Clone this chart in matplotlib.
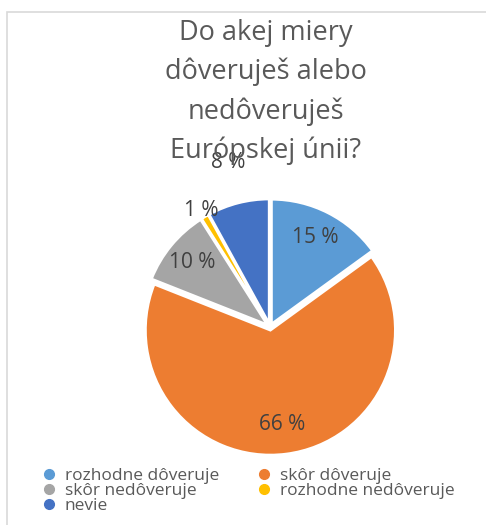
import numpy as np
import matplotlib
matplotlib.use("Agg")
import matplotlib.pyplot as plt
from matplotlib.lines import Line2D
from matplotlib.patches import Rectangle

title = "Do akej miery\ndôveruješ alebo\nnedôveruješ\nEurópskej únii?"
labels = ["rozhodne dôveruje", "skôr dôveruje", "skôr nedôveruje",
          "rozhodne nedôveruje", "nevie"]
values = [15, 66, 10, 1, 8]
colors = ["#5B9BD5", "#ED7D31", "#A5A5A5", "#FFC000", "#4472C4"]
label_dist = [0.8, 0.79, 0.81, 1.08, 1.36]

plt.rcParams['font.family'] = ['Open Sans', 'DejaVu Sans']
W, H = 486, 525
fig = plt.figure(figsize=(W / 100, H / 100), dpi=100)

# light frame of the chart area (cut off on right and bottom)
fig.patches.append(Rectangle((7 / W, -0.1), 1.2, (H - 12) / H + 0.1,
                             transform=fig.transFigure, fill=False,
                             edgecolor="#D9D9D9", lw=1.2))

fig.text(266 / W, 1 - 92 / H, title, ha="center", va="center",
         fontsize=19.5, color="#595959", linespacing=1.5)

ax = fig.add_axes([120 / W, (H - 327 - 150) / H, 300 / W, 300 / H])
wedges, _ = ax.pie(values, colors=colors, startangle=90, counterclock=False,
                   explode=[0.025] * 5,
                   wedgeprops=dict(edgecolor="white", linewidth=2))
ax.set_xlim(-1.2, 1.2)
ax.set_ylim(-1.2, 1.2)
ax.axis("off")

for w, v, d in zip(wedges, values, label_dist):
    ang = np.deg2rad((w.theta1 + w.theta2) / 2)
    ax.text(d * np.cos(ang), d * np.sin(ang), f"{v} %", ha="center",
            va="center", fontsize=15, color="#404040")

handles = [Line2D([], [], marker="o", ls="", color=c, markersize=7) for c in colors]
order = [0, 2, 4, 1, 3]
fig.legend([handles[i] for i in order], [labels[i] for i in order],
           ncol=2, loc="upper left", bbox_to_anchor=(30 / W, 1 - 459 / H),
           frameon=False, fontsize=12.5, labelcolor="#595959",
           handletextpad=0.3, labelspacing=-0.05, columnspacing=2.0,
           handlelength=1.2, borderpad=0)

fig.savefig("out.png", dpi=100)
